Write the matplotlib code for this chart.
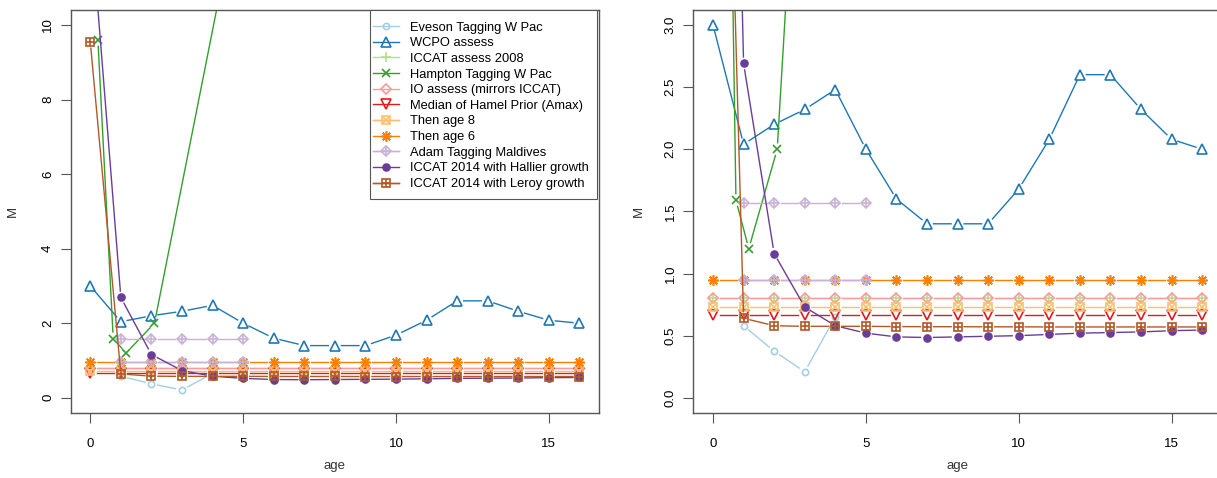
import matplotlib
matplotlib.use("Agg")
import numpy as np
import matplotlib.pyplot as plt
from matplotlib.lines import Line2D
from matplotlib.patches import Rectangle

plt.rcParams['font.family'] = ['Liberation Sans', 'DejaVu Sans']

# ---- data ----
age = [0, 1, 2, 3, 4, 5, 6, 7, 8, 9, 10, 11, 12, 13, 14, 15, 16]

eveson_age = [1, 2, 3, 4]
eveson_m = [0.58, 0.375, 0.21, 0.65]

wcpo_m = [3.0, 2.04, 2.2, 2.32, 2.48, 2.0, 1.6, 1.4, 1.4, 1.4, 1.68, 2.08, 2.6, 2.6, 2.32, 2.08, 2.0]

iccat08_m = [0.8, 0.8, 0.8, 0.8, 0.8, 0.8, 0.8, 0.8, 0.8, 0.8, 0.8, 0.8, 0.8, 0.8, 0.8, 0.8, 0.8]

hampton_age = [0.25, 0.75, 1.17, 2.1, 5.0]
hampton_m = [9.6, 1.59, 1.2, 2.0, 14.0]

io_m = [0.8, 0.8, 0.8, 0.8, 0.8, 0.8, 0.8, 0.8, 0.8, 0.8, 0.8, 0.8, 0.8, 0.8, 0.8, 0.8, 0.8]
hamel_m = [0.67, 0.67, 0.67, 0.67, 0.67, 0.67, 0.67, 0.67, 0.67, 0.67, 0.67, 0.67, 0.67, 0.67, 0.67, 0.67, 0.67]
age8_m = [0.73, 0.73, 0.73, 0.73, 0.73, 0.73, 0.73, 0.73, 0.73, 0.73, 0.73, 0.73, 0.73, 0.73, 0.73, 0.73, 0.73]
age6_m = [0.95, 0.95, 0.95, 0.95, 0.95, 0.95, 0.95, 0.95, 0.95, 0.95, 0.95, 0.95, 0.95, 0.95, 0.95, 0.95, 0.95]

adam_age = [1, 2, 3, 4, 5]
adam_m_hi = [1.57, 1.57, 1.57, 1.57, 1.57]
adam_m_lo = [0.95, 0.95, 0.95, 0.95, 0.95]

hallier_m = [13.0, 2.69, 1.16, 0.73, 0.58, 0.52, 0.49, 0.485, 0.49, 0.495, 0.5, 0.51, 0.52, 0.525,
             0.53, 0.54, 0.545]
leroy_m = [9.55, 0.64, 0.58, 0.575, 0.575, 0.575, 0.573, 0.572, 0.572, 0.571, 0.571, 0.57, 0.57,
           0.57, 0.57, 0.57, 0.57]

labels = ["Eveson Tagging W Pac", "WCPO assess", "ICCAT assess 2008", "Hampton Tagging W Pac",
          "IO assess (mirrors ICCAT)", "Median of Hamel Prior (Amax)", "Then age 8", "Then age 6",
          "Adam Tagging Maldives", "ICCAT 2014 with Hallier growth", "ICCAT 2014 with Leroy growth"]

# Paired palette
cols = ["#A6CEE3", "#1F78B4", "#B2DF8A", "#33A02C", "#FB9A99", "#E31A1C",
        "#FDBF6F", "#FF7F00", "#CAB2D6", "#6A3D9A", "#B15928"]

asterisk = (8, 2, 0)
# marker(s) per series: (marker, size, filled)
marks = [
    [("o", 4.5, False)],
    [("^", 6.5, False)],
    [("+", 6.5, False)],
    [("x", 5.5, False)],
    [("D", 5.5, False)],
    [("v", 6.5, False)],
    [("s", 5.5, False), ("x", 4.5, False)],
    [(asterisk, 7.5, False)],
    [("D", 5.5, False), ("+", 5.5, False)],
    [("o", 5, True)],
    [("s", 5.5, False), ("+", 5.5, False)],
]

GAP = 6.5  # pixels left blank round each point, like R type="b"
W, H = 1217, 478


def draw(ax, x, y, i):
    # line segments shortened at both ends (done in pixel space)
    p = ax.transData.transform(np.column_stack([x, y]))
    segs = []
    for a, b in zip(p[:-1], p[1:]):
        d = b - a
        n = np.hypot(*d)
        if n > 2 * GAP:
            segs += [a + d / n * GAP, b - d / n * GAP, [np.nan, np.nan]]
    if segs:
        q = np.array(segs, dtype=float)
        ok = ~np.isnan(q[:, 0])
        q[ok] = ax.transData.inverted().transform(q[ok])
        ax.plot(q[:, 0], q[:, 1], color=cols[i], lw=1.0, zorder=2 + i * 0.01)
    for mk, ms, filled in marks[i]:
        ax.plot(x, y, ls="none", color=cols[i], marker=mk, ms=ms, mew=1.2,
                mfc=cols[i] if filled else "none", zorder=2 + i * 0.01)


def handle(i):
    hs = [Line2D([], [], color=cols[i], lw=1.0, marker=mk, ms=ms, mew=1.2,
                 mfc=cols[i] if filled else "none") for mk, ms, filled in marks[i]]
    return tuple(hs) if len(hs) > 1 else hs[0]


def panel(ax, ylim, yticks, ylabs):
    ax.set_xlim(-0.64, 16.64)
    ax.set_ylim(*ylim)
    ax.set_xticks([0, 5, 10, 15])
    ax.set_yticks(yticks)
    ax.set_yticklabels(ylabs, rotation=90, va="center")
    draw(ax, eveson_age, eveson_m, 0)
    draw(ax, age, wcpo_m, 1)
    draw(ax, age, iccat08_m, 2)
    draw(ax, hampton_age, hampton_m, 3)
    draw(ax, age, io_m, 4)
    draw(ax, age, hamel_m, 5)
    draw(ax, age, age8_m, 6)
    draw(ax, age, age6_m, 7)
    draw(ax, adam_age, adam_m_hi, 8)
    draw(ax, adam_age, adam_m_lo, 8)
    draw(ax, age, hallier_m, 9)
    draw(ax, age, leroy_m, 10)
    for s in ax.spines.values():
        s.set_color("#555555")
        s.set_linewidth(1.0)
    ax.tick_params(colors="#555555", labelcolor="black", length=7, width=0.8, labelsize=9.5)
    ax.tick_params(axis="x", pad=11)
    ax.tick_params(axis="y", pad=5)
    ax.set_xlabel("age", fontsize=9.5, color="#333333")
    ax.set_ylabel("M", fontsize=9.5, color="#333333")
    ax.xaxis.set_label_coords(0.5, -0.118)


fig = plt.figure(figsize=(W / 100, H / 100), dpi=100)
ax1 = fig.add_axes([0.0581, 0.1366, 0.4341, 0.8424])
ax2 = fig.add_axes([0.5698, 0.1366, 0.4341, 0.8424])

panel(ax1, (-0.4, 10.4), [0, 2, 4, 6, 8, 10], ["0", "2", "4", "6", "8", "10"])
ax1.yaxis.set_label_coords(-0.099, 0.5)

panel(ax2, (-0.12, 3.12), [0.0, 0.5, 1.0, 1.5, 2.0, 2.5, 3.0],
      ["0.0", "0.5", "1.0", "1.5", "2.0", "2.5", "3.0"])
ax2.yaxis.set_label_coords(-0.092, 0.5)
ax2.spines["right"].set_visible(False)

# legend box (R style): frame drawn separately for its own padding
box = Rectangle((370 / W, 1 - 199 / H), 227 / W, 189 / H, transform=fig.transFigure,
                facecolor="white", edgecolor="#555555", lw=0.8, zorder=9)
fig.add_artist(box)
leg = fig.legend([handle(i) for i in range(len(labels))], labels, loc="upper left",
                 bbox_to_anchor=(373 / W, 1 - 21.5 / H), borderaxespad=0, borderpad=0,
                 fontsize=9.3, labelspacing=0.28, handlelength=2.0, handletextpad=0.9,
                 frameon=False)
leg.set_zorder(10)

fig.savefig("out.png", dpi=100)
